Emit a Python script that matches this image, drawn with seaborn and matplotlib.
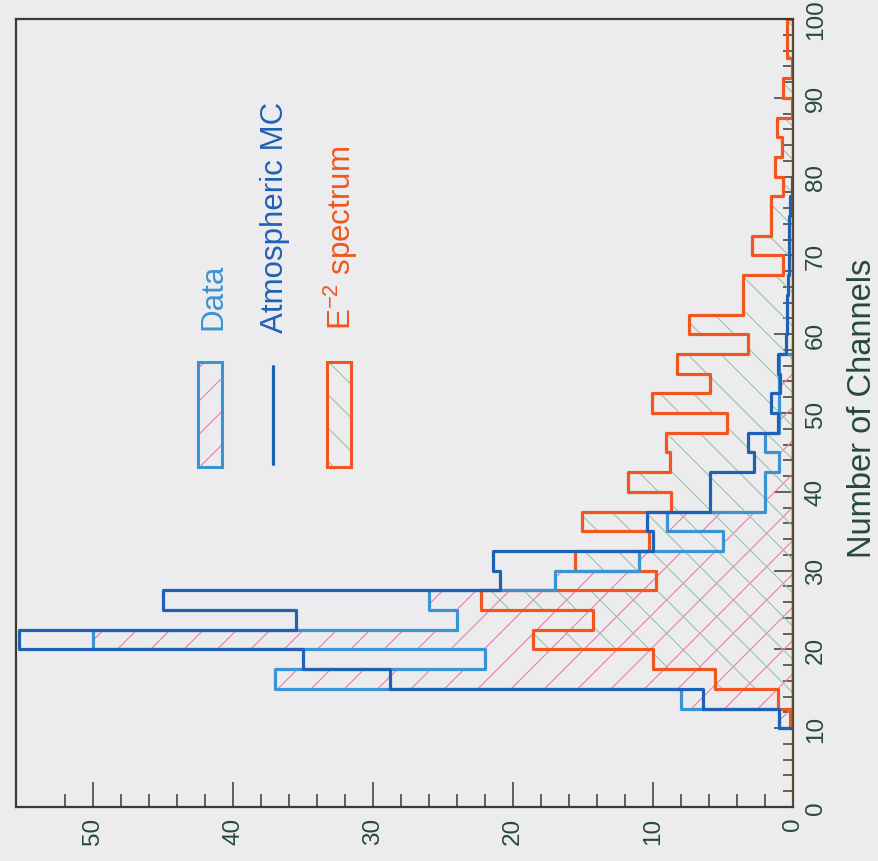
import numpy as np
import matplotlib
matplotlib.use("Agg")
import matplotlib.pyplot as plt
from matplotlib.ticker import FixedLocator
from matplotlib.patches import Rectangle
from matplotlib.lines import Line2D
import seaborn as sns

# Channel-multiplicity histograms: 40 bins of 2.5 channels from 0 to 100
channel_edges = np.arange(0, 100.01, 2.5)

data_counts = [0, 0, 0, 0, 1, 8, 37, 22, 50, 24,
               26, 17, 11, 5, 9, 2, 2, 1, 2, 1,
               1, 1, 1, 0, 0, 0, 0, 0, 0, 0,
               0, 0, 0, 0, 0, 0, 0, 0, 0, 0]
atm_mc = [0, 0, 0, 0, 1.0, 6.4, 28.8, 35.0, 55.3, 35.5,
          45.0, 20.9, 21.4, 10.0, 10.4, 5.9, 5.9, 2.8, 3.2, 1.1,
          1.6, 0.9, 1.1, 0.5, 0.4, 0.4, 0.35, 0.3, 0.3, 0.25,
          0.2, 0.1, 0, 0, 0, 0, 0, 0, 0, 0]
e2_spectrum = [0, 0, 0, 0, 0.2, 1.1, 5.6, 10.0, 18.6, 14.3,
               22.3, 9.8, 15.6, 10.3, 15.1, 8.7, 11.8, 8.8, 9.1, 4.7,
               10.1, 5.9, 8.3, 3.2, 7.4, 3.55, 3.55, 0.7, 2.9, 1.6,
               1.6, 0.74, 1.28, 0.8, 1.17, 0.1, 0.74, 0.1, 0.45, 0.45]

channel_ticks = [0, 10, 20, 30, 40, 50, 60, 70, 80, 90, 100]
channel_tick_labels = ["0", "10", "20", "30", "40", "50", "60", "70", "80", "90", "100"]
count_ticks = [0, 10, 20, 30, 40, 50]
count_tick_labels = ["0", "10", "20", "30", "40", "50"]

legend_labels = ["Data", "Atmospheric MC", r"E$^{-2}$ spectrum"]
axis_title = "Number of Channels"

# colours
BG = "#ececee"
DATA_EDGE = "#3a93d2"
MC_COLOR = "#1f61b6"
E2_EDGE = "#f0561e"
PINK = "#f07aa8"
GREEN = "#9cc4a4"
TEXT = "#264a36"
FRAME = "#3e3a30"

sns.set_style("white")
plt.rcParams["font.family"] = ["Liberation Sans", "DejaVu Sans"]
plt.rcParams["mathtext.fontset"] = "custom"
plt.rcParams["mathtext.rm"] = "Liberation Sans"
plt.rcParams["mathtext.it"] = "Liberation Sans:italic"
plt.rcParams["mathtext.bf"] = "Liberation Sans:bold"
plt.rcParams["hatch.linewidth"] = 0.8

W, H = 879, 862
fig = plt.figure(figsize=(W / 100, H / 100), dpi=100, facecolor=BG)


def fx(px):
    return px / W


def fy(py):
    return 1 - py / H


ax = fig.add_axes([fx(16), fy(808), fx(793) - fx(16), fy(20) - fy(808)])
ax.set_facecolor(BG)


def span(values):
    """Index range covering the populated bins of a histogram."""
    nz = [i for i, v in enumerate(values) if v > 0]
    return nz[0], nz[-1] + 1


def hist_layer(values, color, **kws):
    lo, hi = span(values)
    edges = [float(e) for e in channel_edges[lo:hi + 1]]
    centers = [(a + b) / 2 for a, b in zip(edges[:-1], edges[1:])]
    sns.histplot(y=centers, weights=values[lo:hi], bins=edges,
                 element="step", fill=True, color=color, ax=ax,
                 facecolor="none", edgecolor=color, **kws)


# hatched fills (no outline; hatch colour follows edgecolor)
hist_layer(data_counts, PINK, linewidth=0, hatch="/")
hist_layer(e2_spectrum, GREEN, linewidth=0, hatch="\\")
# outlines
hist_layer(e2_spectrum, E2_EDGE, linewidth=2.3)
hist_layer(data_counts, DATA_EDGE, linewidth=2.3)
hist_layer(atm_mc, MC_COLOR, linewidth=2.3)

# axes: counts run right-to-left, channels bottom-to-top on the right side
ax.set_xlim(55.5, 0)
ax.set_ylim(0, 100)
ax.set_xlabel("")
ax.set_ylabel("")

ax.yaxis.tick_right()
ax.set_yticks(channel_ticks)
ax.set_yticklabels(channel_tick_labels, rotation=90, va="center", ha="left")
ax.yaxis.set_minor_locator(FixedLocator([v for v in range(0, 101, 2) if v % 10]))
ax.set_xticks(count_ticks)
ax.set_xticklabels(count_tick_labels, rotation=90, ha="center", va="top")
ax.xaxis.set_minor_locator(FixedLocator([v for v in range(0, 53, 2) if v % 10]))

ax.tick_params(axis="y", which="both", direction="in", right=True, left=False,
               labelright=True, labelleft=False, colors=FRAME, labelcolor=TEXT,
               labelsize=17.5, pad=8.5, width=1.1)
ax.tick_params(axis="y", which="major", length=14)
ax.tick_params(axis="y", which="minor", length=7)
ax.tick_params(axis="x", which="both", direction="in", bottom=True, top=False,
               colors=FRAME, labelcolor=TEXT, labelsize=17.5, pad=7, width=1.1)
ax.tick_params(axis="x", which="major", length=18)
ax.tick_params(axis="x", which="minor", length=9.5)

for sp in ax.spines.values():
    sp.set_visible(True)
    sp.set_color(FRAME)
    sp.set_linewidth(1.6)
ax.spines["right"].set_color("#5a4a30")

# axis title along the right side
fig.text(fx(871), fy(558), axis_title, rotation=90, rotation_mode="anchor",
         ha="left", va="baseline", fontsize=23.5, color=TEXT)

# legend, drawn in figure coordinates
box_w, box_h = 24, 105
fig.patches.append(Rectangle((fx(198), fy(468)), box_w / W, box_h / H,
                             transform=fig.transFigure, facecolor="none",
                             edgecolor=PINK, linewidth=0, hatch="/"))
fig.patches.append(Rectangle((fx(198), fy(468)), box_w / W, box_h / H,
                             transform=fig.transFigure, facecolor="none",
                             edgecolor=DATA_EDGE, linewidth=2.2))
fig.lines.append(Line2D([fx(273), fx(273)], [fy(465), fy(367)],
                        transform=fig.transFigure, color=MC_COLOR, linewidth=2.3))
fig.patches.append(Rectangle((fx(327), fy(468)), box_w / W, box_h / H,
                             transform=fig.transFigure, facecolor="none",
                             edgecolor=GREEN, linewidth=0, hatch="\\"))
fig.patches.append(Rectangle((fx(327), fy(468)), box_w / W, box_h / H,
                             transform=fig.transFigure, facecolor="none",
                             edgecolor=E2_EDGE, linewidth=2.2))

fig.text(fx(221), fy(330), legend_labels[0], rotation=90, rotation_mode="anchor",
         ha="left", va="baseline", fontsize=22.5, color=DATA_EDGE)
fig.text(fx(283), fy(333), legend_labels[1], rotation=90, rotation_mode="anchor",
         ha="left", va="baseline", fontsize=22.5, color=MC_COLOR)
fig.text(fx(351), fy(330), legend_labels[2], rotation=90, rotation_mode="anchor",
         ha="left", va="baseline", fontsize=22.5, color=E2_EDGE)

fig.savefig("out.png", dpi=100, facecolor=BG)
